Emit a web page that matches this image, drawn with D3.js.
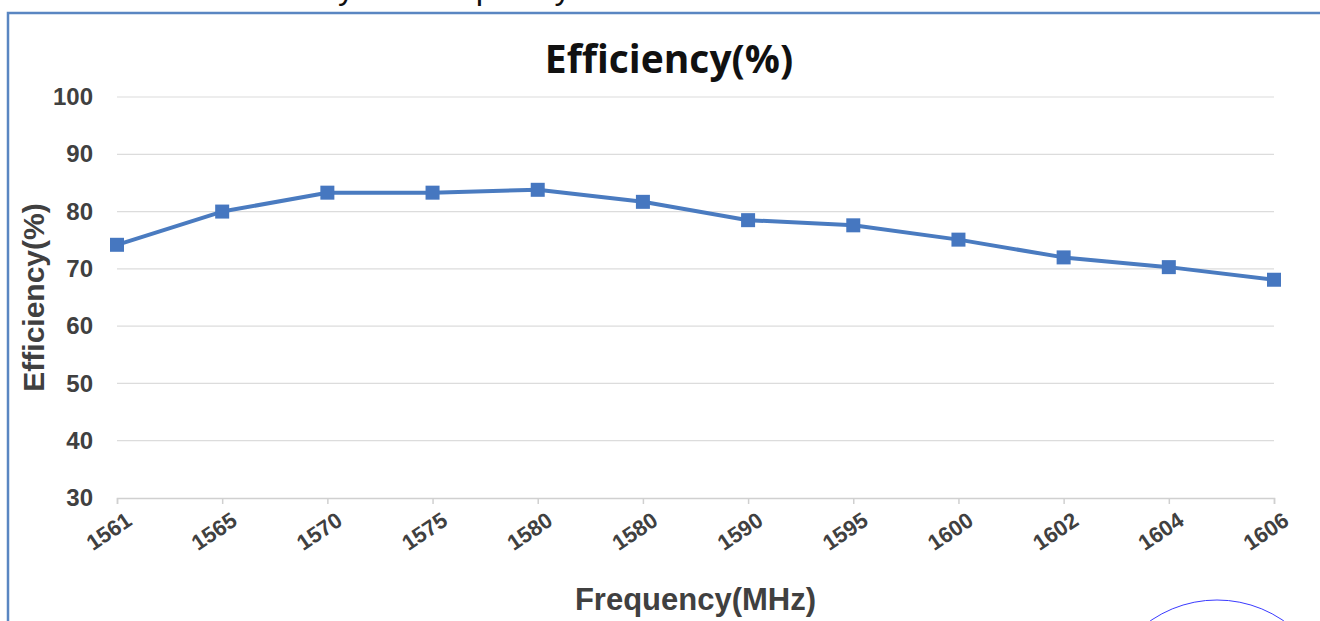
<!DOCTYPE html>
<html>
<head>
<meta charset="utf-8">
<script src="https://cdn.jsdelivr.net/npm/d3@7"></script>
<style>
  body { margin: 0; background: #fff; }
  svg { display: block; }
</style>
</head>
<body>
<div id="chart"></div>
<script>
// chart data
var freqLabels = ["1561", "1565", "1570", "1575", "1580", "1580", "1590", "1595", "1600", "1602", "1604", "1606"];
var efficiency = [74.2, 80.0, 83.3, 83.3, 83.8, 81.7, 78.5, 77.6, 75.1, 72.0, 70.3, 68.1];
var yTicks = [30, 40, 50, 60, 70, 80, 90, 100];

var W = 1320, H = 621;
var plot = { left: 117, right: 1274, top: 97, bottom: 498 };

var svg = d3.select("#chart")
    .append("svg")
    .attr("width", W)
    .attr("height", H);

// caption above the frame, only the descenders show
svg.append("text")
    .attr("x", 214)
    .attr("y", -1)
    .attr("font-family", "Liberation Sans, Arial, sans-serif")
    .attr("font-size", 33)
    .attr("fill", "#111")
    .text("Efficiency vs. Frequency");

// frame (top + left edge)
svg.append("path")
    .attr("d", "M8,621 V13 H1320")
    .attr("fill", "none")
    .attr("stroke", "#5a86c2")
    .attr("stroke-width", 2.5);

// x is a point scale over indices, labels repeat (1580 twice)
var x = d3.scalePoint()
    .domain(d3.range(freqLabels.length))
    .range([plot.left, plot.right]);

var y = d3.scaleLinear()
    .domain([30, 100])
    .range([plot.bottom, plot.top]);

// gridlines
svg.append("g")
    .selectAll("line")
    .data(yTicks.filter(function(d) { return d > 30; }))
    .enter()
    .append("line")
    .attr("x1", plot.left)
    .attr("x2", plot.right)
    .attr("y1", function(d) { return y(d); })
    .attr("y2", function(d) { return y(d); })
    .attr("stroke", "#dcdcdc")
    .attr("stroke-width", 1.2);

// y axis labels
var yAxis = svg.append("g")
    .attr("transform", "translate(" + (plot.left - 24) + ",0)")
    .call(d3.axisLeft(y).tickValues(yTicks).tickSize(0).tickPadding(0));
yAxis.select(".domain").remove();
yAxis.selectAll("text")
    .attr("font-family", "Liberation Sans, Arial, sans-serif")
    .attr("font-weight", "bold")
    .attr("font-size", 24)
    .attr("fill", "#404040");

// x axis
var xAxis = svg.append("g")
    .attr("transform", "translate(0," + plot.bottom + ")")
    .call(d3.axisBottom(x).tickSize(6).tickFormat(function(i) { return freqLabels[i]; }));
xAxis.select(".domain").attr("stroke", "#d0d0d0").attr("stroke-width", 1.5);
xAxis.selectAll(".tick line").attr("stroke", "#d0d0d0").attr("stroke-width", 1.5);
xAxis.selectAll("text")
    .attr("font-family", "Liberation Sans, Arial, sans-serif")
    .attr("font-weight", "bold")
    .attr("font-size", 22)
    .attr("fill", "#404040")
    .attr("text-anchor", "end")
    .attr("x", 0)
    .attr("y", 0)
    .attr("dy", 0)
    .attr("transform", "translate(16,26) rotate(-34)");

// axis titles
svg.append("text")
    .attr("x", (plot.left + plot.right) / 2)
    .attr("y", 610)
    .attr("text-anchor", "middle")
    .attr("font-family", "Liberation Sans, Arial, sans-serif")
    .attr("font-weight", "bold")
    .attr("font-size", 31)
    .attr("fill", "#404040")
    .text("Frequency(MHz)");

svg.append("text")
    .attr("transform", "translate(44," + ((plot.top + plot.bottom) / 2) + ") rotate(-90)")
    .attr("text-anchor", "middle")
    .attr("font-family", "Liberation Sans, Arial, sans-serif")
    .attr("font-weight", "bold")
    .attr("font-size", 30)
    .attr("fill", "#404040")
    .text("Efficiency(%)");

// chart title
svg.append("text")
    .attr("x", 669)
    .attr("y", 73)
    .attr("text-anchor", "middle")
    .attr("font-family", "Open Sans, sans-serif")
    .attr("font-weight", "bold")
    .attr("font-size", 39)
    .attr("fill", "#111")
    .text("Efficiency(%)");

// line + markers
var line = d3.line()
    .x(function(d, i) { return x(i); })
    .y(function(d) { return y(d); });

svg.append("path")
    .datum(efficiency)
    .attr("d", line)
    .attr("fill", "none")
    .attr("stroke", "#4a7bc0")
    .attr("stroke-width", 4)
    .attr("stroke-linejoin", "round");

svg.selectAll(".marker")
    .data(efficiency)
    .enter()
    .append("rect")
    .attr("class", "marker")
    .attr("x", function(d, i) { return x(i) - 7; })
    .attr("y", function(d) { return y(d) - 7; })
    .attr("width", 14)
    .attr("height", 14)
    .attr("fill", "#4677c0");

// stray circle at the bottom right corner
svg.append("circle")
    .attr("cx", 1217)
    .attr("cy", 717)
    .attr("r", 117)
    .attr("fill", "none")
    .attr("stroke", "#3a3aff")
    .attr("stroke-width", 1);
</script>
</body>
</html>
